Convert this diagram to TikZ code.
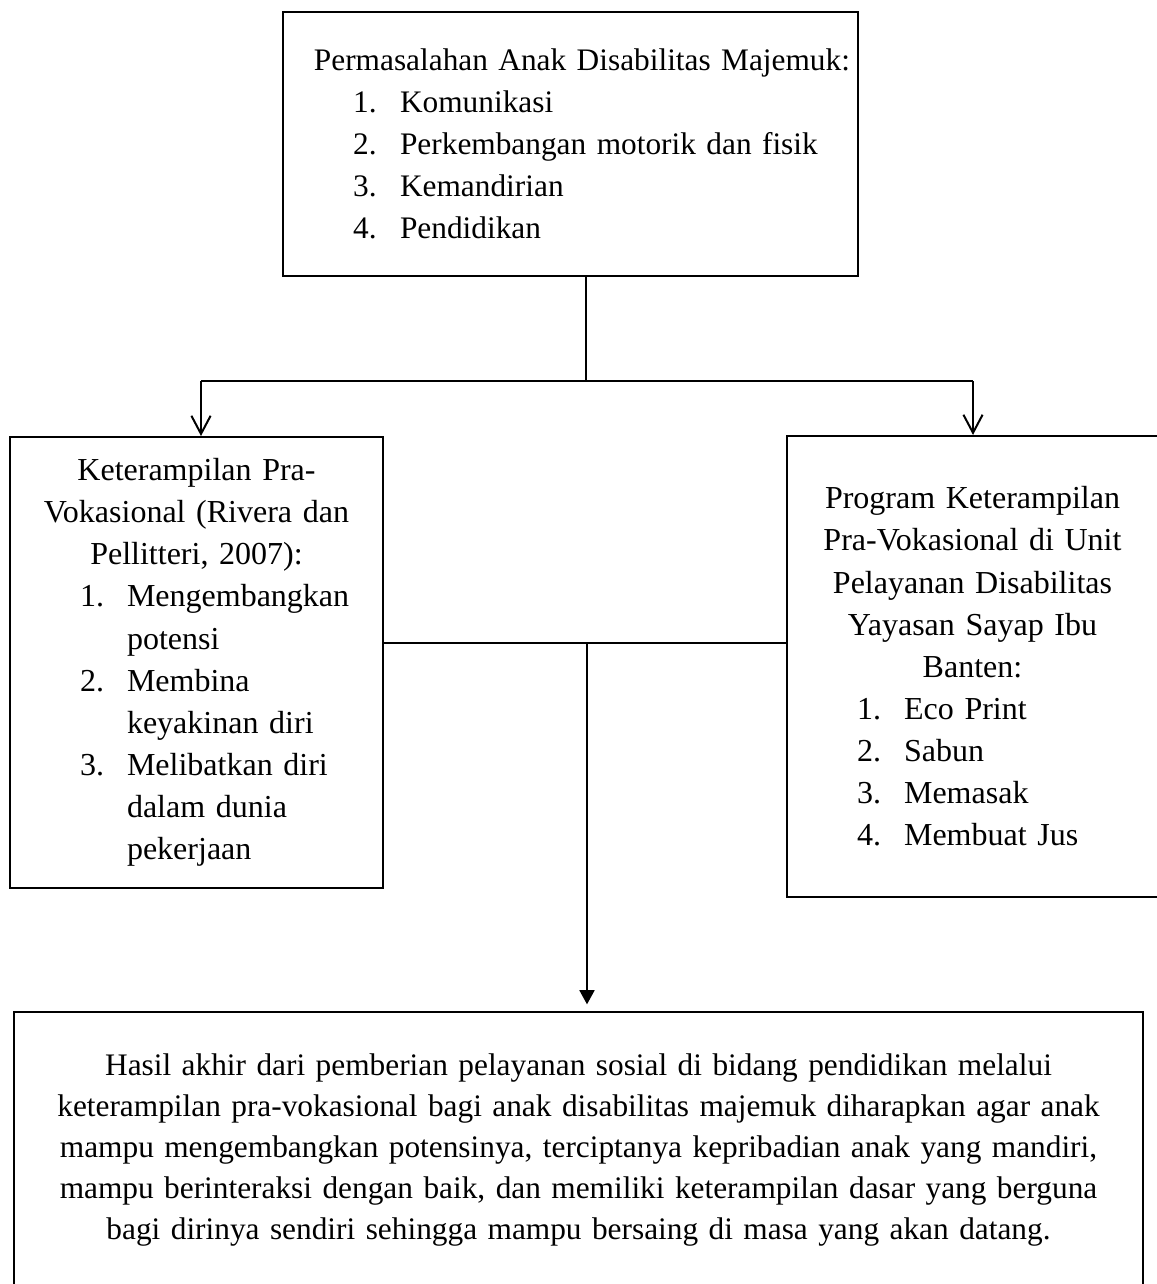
\documentclass[tikz,border=0pt]{standalone}
\usepackage{fontspec}
\setmainfont{Liberation Serif}
\usetikzlibrary{arrows.meta,calc}
\tikzset{
  box/.style={draw, line width=0.75pt, inner sep=0pt, align=center,
              font=\fontsize{12}{15.8}\selectfont},
  ln/.style={line width=0.75pt},
  ar/.style={-{Straight Barb[length=6.8pt, width=7.2pt]}, line width=0.75pt},
  arf/.style={-{Triangle[length=5.3pt, width=5.6pt]}, line width=0.75pt, shorten >=2.5pt},
}
\newcommand{\numitem}[2]{\makebox[\linewidth][l]{\hspace*{26.3pt}\makebox[17.6pt][l]{#1}#2}}

\begin{document}
\begin{tikzpicture}[x=0.375pt, y=-0.375pt]
  \useasboundingbox (0,0) rectangle (1156,1284);
  \node[box, text width=215.6pt, minimum height=99pt,
        font=\fontsize{11.75}{15.7}\selectfont] (prob) at (570.5,144)
    {\makebox[\linewidth][l]{\hspace*{11.6pt}Permasalahan Anak Disabilitas Majemuk:}\\
     \numitem{1.}{Komunikasi}\\
     \numitem{2.}{Perkembangan motorik dan fisik}\\
     \numitem{3.}{Kemandirian}\\
     \numitem{4.}{Pendidikan}};
  \node[box, text width=139.9pt, minimum height=169.1pt] (pv) at (196.5,662.5)
    {Keterampilan Pra-\\ Vokasional (Rivera dan\\ Pellitteri, 2007):\\
     \numitem{1.}{Mengembangkan}\\ \numitem{}{potensi}\\
     \numitem{2.}{Membina}\\ \numitem{}{keyakinan diri}\\
     \numitem{3.}{Melibatkan diri}\\ \numitem{}{dalam dunia}\\ \numitem{}{pekerjaan}};
  \node[box, text width=139.1pt, minimum height=172.9pt] (prog) at (972.5,666.5)
    {Program Keterampilan\\ Pra-Vokasional di Unit\\ Pelayanan Disabilitas\\
     Yayasan Sayap Ibu\\ Banten:\\
     \numitem{1.}{Eco Print}\\ \numitem{2.}{Sabun}\\
     \numitem{3.}{Memasak}\\ \numitem{4.}{Membuat Jus}};
  \node[box, text width=423.4pt, minimum height=103.5pt,
        font=\fontsize{11.75}{15.3}\selectfont] (hasil) at (578.5,1150)
    {Hasil akhir dari pemberian pelayanan sosial di bidang pendidikan melalui\\
     keterampilan pra-vokasional bagi anak disabilitas majemuk diharapkan agar anak\\
     mampu mengembangkan potensinya, terciptanya kepribadian anak yang mandiri,\\
     mampu berinteraksi dengan baik, dan memiliki keterampilan dasar yang berguna\\
     bagi dirinya sendiri sehingga mampu bersaing di masa yang akan datang.};
  \coordinate (jt) at (586,381);
  \coordinate (jl) at (201,381);
  \coordinate (jr) at (973,381);
  \coordinate (mid) at (587,643);
  \draw[ln] (prob.south -| jt) -- (jt);
  \draw[ln] (jl) -- (jr);
  \draw[ar] (jl) -- (jl |- pv.north);
  \draw[ar] (jr) -- (jr |- prog.north);
  \draw[ln] (mid -| pv.east) -- (mid -| prog.west);
  \draw[arf] (mid) -- (mid |- hasil.north);
\end{tikzpicture}
\end{document}
